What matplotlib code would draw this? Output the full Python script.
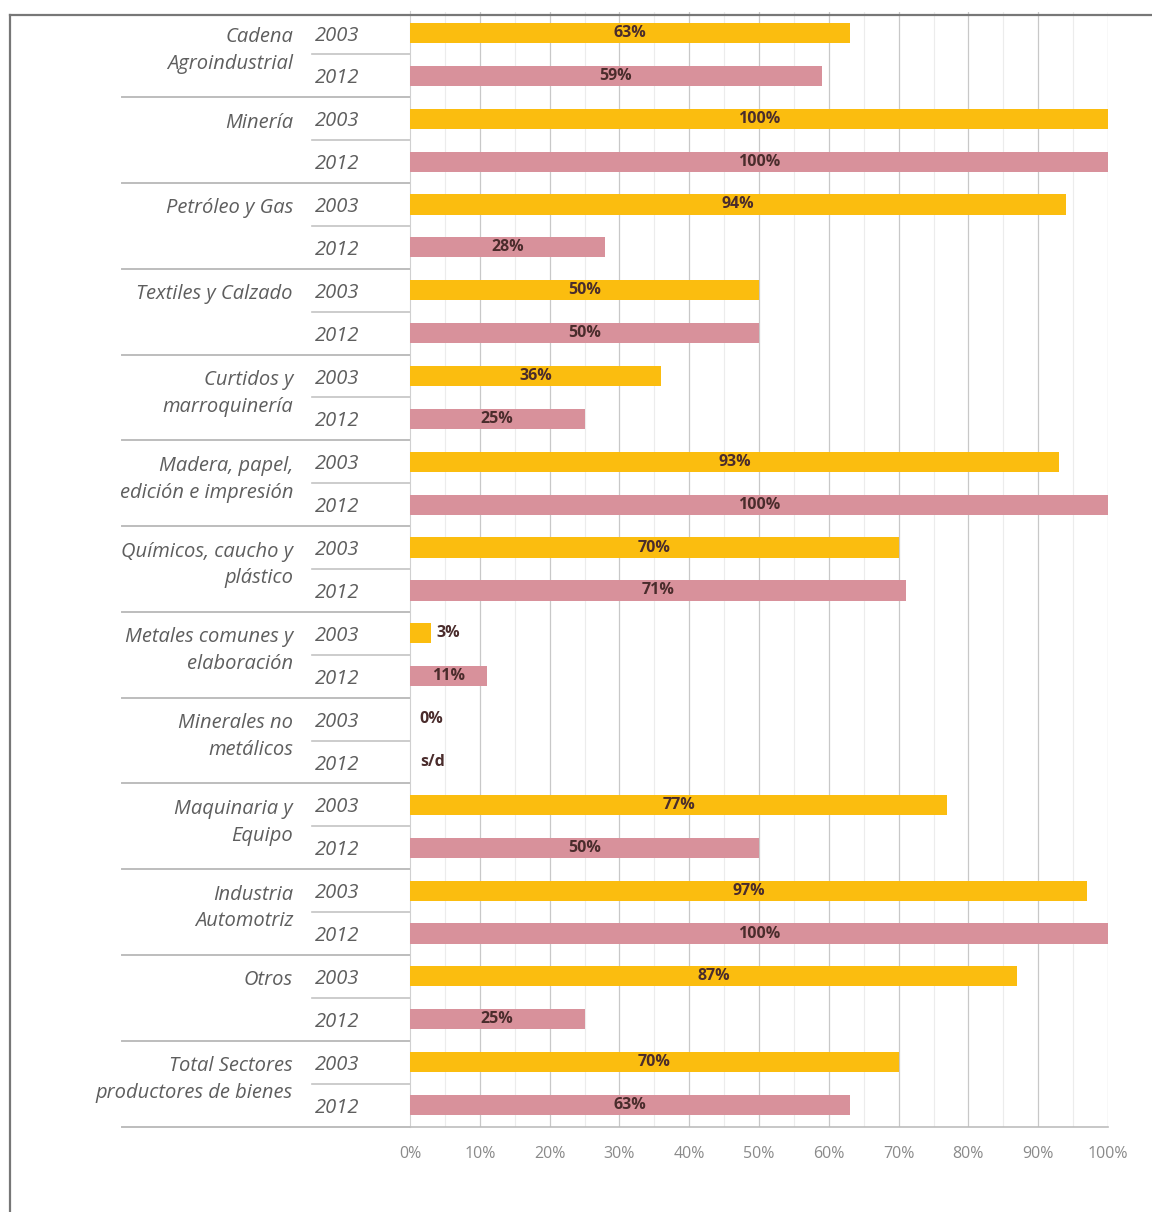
import numpy as np
import matplotlib.pyplot as plt
from matplotlib.transforms import blended_transform_factory

sectors = ['Cadena\nAgroindustrial', 'Minería', 'Petróleo y Gas', 'Textiles y Calzado',
           'Curtidos y\nmarroquinería', 'Madera, papel,\nedición e impresión',
           'Químicos, caucho y\nplástico', 'Metales comunes y\nelaboración',
           'Minerales no\nmetálicos', 'Maquinaria y\nEquipo', 'Industria\nAutomotriz',
           'Otros', 'Total Sectores\nproductores de bienes']
years = ['2003', '2012']
vals_2003 = [63, 100, 94, 50, 36, 93, 70, 3, 0, 77, 97, 87, 70]
vals_2012 = [59, 100, 28, 50, 25, 100, 71, 11, None, 50, 100, 25, 63]
xticks = [0, 10, 20, 30, 40, 50, 60, 70, 80, 90, 100]

yellow = '#FBBD0F'
pink = '#D8919B'
txt_gray = '#5e5e5e'
lab_col = '#4a2c2c'

plt.rcParams['font.family'] = ['Open Sans', 'DejaVu Sans']

fig = plt.figure(figsize=(11.52, 12.12), dpi=100)
W, H = 1152, 1212
ax = fig.add_axes([410 / W, 1 - 1126.5 / H, 698 / W, (1126.5 - 11.5) / H])

n = len(sectors)
pos03 = np.arange(n) * 2
pos12 = pos03 + 1

ax.barh(pos03, vals_2003, height=0.47, color=yellow, zorder=3)
v12 = [v if v is not None else 0 for v in vals_2012]
ax.barh(pos12, v12, height=0.47, color=pink, zorder=3)

ax.set_xlim(0, 100)
ax.set_ylim(2 * n - 0.5, -0.5)

# gridlines
for x in range(5, 100, 10):
    ax.axvline(x, color='#ececec', lw=0.8, zorder=1)
for x in xticks[1:]:
    ax.axvline(x, color='#c8c8c8', lw=0.9, zorder=1)

ax.set_xticks(xticks)
ax.set_xticklabels([f'{t}%' for t in xticks], color='#8a8a8a', fontsize=11.5)
ax.tick_params(axis='x', length=0, pad=14)
ax.set_yticks([])
for s in ['top', 'right']:
    ax.spines[s].set_visible(False)
ax.spines['left'].set_color('#d0d0d0')
ax.spines['bottom'].set_color('#bdbdbd')
ax.spines['bottom'].set_linewidth(1.2)


def bar_label(y, v):
    if v is None:
        ax.text(1.5, y, 's/d', va='center', ha='left', fontsize=11.5,
                fontweight='bold', color=lab_col, zorder=4)
    elif v < 5:
        ax.text(v + 0.8 if v > 0 else 1.3, y, f'{v}%', va='center', ha='left',
                fontsize=11.5, fontweight='bold', color=lab_col, zorder=4)
    else:
        ax.text(v / 2, y, f'{v}%', va='center', ha='center', fontsize=11.5,
                fontweight='bold', color=lab_col, zorder=4)


for i in range(n):
    bar_label(pos03[i], vals_2003[i])
    bar_label(pos12[i], vals_2012[i])

trans = blended_transform_factory(ax.transAxes, ax.transData)
x_cat = (293 - 410) / 698
x_year = (315 - 410) / 698
for i in range(n):
    ax.text(x_year, pos03[i] + 0.06, years[0], transform=trans, ha='left', va='center',
            fontsize=14.5, style='italic', color=txt_gray)
    ax.text(x_year, pos12[i] + 0.06, years[1], transform=trans, ha='left', va='center',
            fontsize=14.5, style='italic', color=txt_gray)
    ax.text(x_cat, pos03[i] - 0.14, sectors[i], transform=trans, ha='right', va='top',
            fontsize=14.5, style='italic', color=txt_gray, linespacing=1.45)
    # separator between years
    ax.plot([(312 - 410) / 698, 0], [pos03[i] + 0.5, pos03[i] + 0.5], transform=trans,
            color='#c4c4c4', lw=1.2, clip_on=False)
    # separator between sectors
    ax.plot([(122 - 410) / 698, 0], [pos12[i] + 0.5, pos12[i] + 0.5], transform=trans,
            color='#bdbdbd', lw=1.4, clip_on=False)

# outer frame
fig.add_artist(plt.Line2D([10 / W, 10 / W], [0, 1 - 15 / H], color='#777777', lw=1.6))
fig.add_artist(plt.Line2D([10 / W, 1], [1 - 15 / H, 1 - 15 / H], color='#777777', lw=1.6))

fig.savefig('out.png', dpi=100, facecolor='white')
